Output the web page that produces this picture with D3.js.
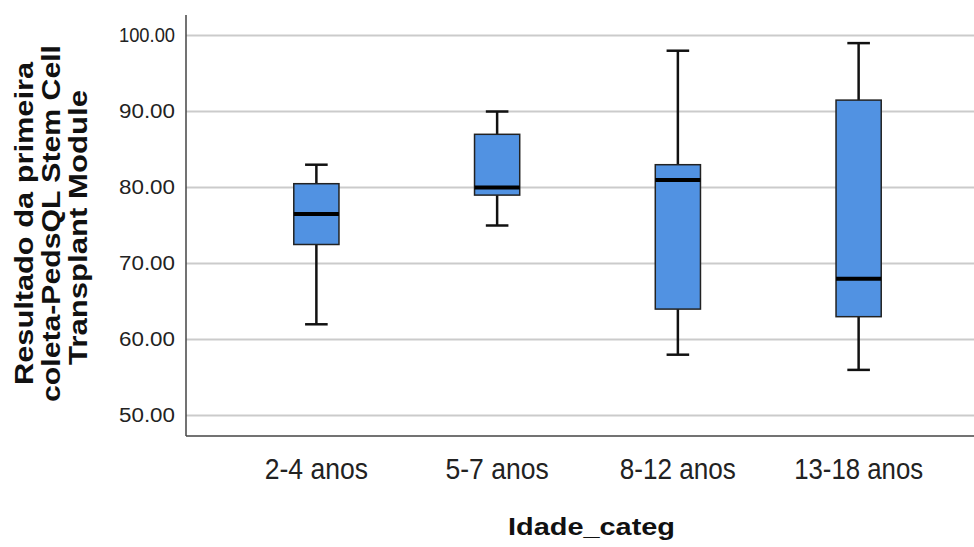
<!DOCTYPE html>
<html><head><meta charset="utf-8">
<script src="https://cdn.jsdelivr.net/npm/d3@7"></script>
<style>body{margin:0;background:#fff}</style>
</head><body>
<svg id="c" width="974" height="547"></svg>
<script>
const categories = ["2-4 anos", "5-7 anos", "8-12 anos", "13-18 anos"];
const whiskerLow = [62, 75, 58, 56];
const q1 = [72.5, 79, 64, 63];
const median = [76.5, 80, 81, 68];
const q3 = [80.5, 87, 83, 91.5];
const whiskerHigh = [83, 90, 98, 99];
const yTicks = [50, 60, 70, 80, 90, 100];
const yTitleLines = ["Resultado da primeira", "coleta-PedsQL Stem Cell", "Transplant Module"];
const xTitle = "Idade_categ";

const svg = d3.select("#c");
const plotLeft = 186, plotRight = 974, plotTop = 15, plotBottom = 436;

const y = d3.scaleLinear().domain([47.3, 102.7]).range([plotBottom, plotTop]);
const x = d3.scaleBand().domain(categories).range([226, 949]);

// gridlines
svg.append("g").selectAll("line").data(yTicks).join("line")
  .attr("x1", plotLeft).attr("x2", plotRight)
  .attr("y1", d => y(d)).attr("y2", d => y(d))
  .attr("stroke", "#cbcbcb").attr("stroke-width", 2);

// y axis
const yAxis = svg.append("g").attr("transform", `translate(${plotLeft},0)`)
  .call(d3.axisLeft(y).tickValues(yTicks).tickSize(0).tickPadding(11).tickFormat(d3.format(".2f")));
yAxis.select(".domain").remove();
yAxis.selectAll("text").attr("font-family", "Liberation Sans, Arial, sans-serif")
  .attr("font-size", 20).attr("fill", "#222")
  .attr("textLength", 56).attr("lengthAdjust", "spacingAndGlyphs");

// axis lines
svg.append("line").attr("x1", plotLeft).attr("x2", plotLeft).attr("y1", plotTop).attr("y2", plotBottom)
  .attr("stroke", "#444").attr("stroke-width", 1.5);
svg.append("line").attr("x1", plotLeft).attr("x2", plotRight).attr("y1", plotBottom).attr("y2", plotBottom)
  .attr("stroke", "#444").attr("stroke-width", 1.5);

// x axis labels
const xAxis = svg.append("g").attr("transform", `translate(0,${plotBottom})`)
  .call(d3.axisBottom(x).tickSize(0).tickPadding(0));
xAxis.select(".domain").remove();
xAxis.selectAll("text").attr("font-family", "Liberation Sans, Arial, sans-serif")
  .attr("font-size", 30).attr("fill", "#222").attr("dy", null).attr("y", 43)
  .attr("textLength", d => d.length * 12.9).attr("lengthAdjust", "spacingAndGlyphs");

// boxes
const data = categories.map((c, i) => ({c, lo: whiskerLow[i], q1: q1[i], med: median[i], q3: q3[i], hi: whiskerHigh[i]}));
const bw = x.bandwidth() * 0.25;
const g = svg.append("g").selectAll("g").data(data).join("g")
  .attr("transform", d => `translate(${x(d.c) + x.bandwidth() / 2},0)`);
g.append("line").attr("x1", 0).attr("x2", 0).attr("y1", d => y(d.hi)).attr("y2", d => y(d.q3))
  .attr("stroke", "#111").attr("stroke-width", 2.5);
g.append("line").attr("x1", 0).attr("x2", 0).attr("y1", d => y(d.q1)).attr("y2", d => y(d.lo))
  .attr("stroke", "#111").attr("stroke-width", 2.5);
g.append("line").attr("x1", -bw / 4).attr("x2", bw / 4).attr("y1", d => y(d.hi)).attr("y2", d => y(d.hi))
  .attr("stroke", "#111").attr("stroke-width", 2.5);
g.append("line").attr("x1", -bw / 4).attr("x2", bw / 4).attr("y1", d => y(d.lo)).attr("y2", d => y(d.lo))
  .attr("stroke", "#111").attr("stroke-width", 2.5);
g.append("rect").attr("x", -bw / 2).attr("width", bw)
  .attr("y", d => y(d.q3)).attr("height", d => y(d.q1) - y(d.q3))
  .attr("fill", "#5192e2").attr("stroke", "#222").attr("stroke-width", 1.5);
g.append("line").attr("x1", -bw / 2).attr("x2", bw / 2).attr("y1", d => y(d.med)).attr("y2", d => y(d.med))
  .attr("stroke", "#000").attr("stroke-width", 4);

// y title
const yt = svg.append("text").attr("transform", "rotate(-90)")
  .attr("font-family", "Liberation Sans, Arial, sans-serif").attr("font-weight", "bold")
  .attr("font-size", 26).attr("fill", "#111").attr("text-anchor", "middle");
const lens = [323, 357, 275];
const centers = [223.5, 223.5, 227.5];
const bases = [33, 60, 87];
yTitleLines.forEach((t, i) => {
  yt.append("tspan").attr("x", -centers[i]).attr("y", bases[i]).text(t)
    .attr("textLength", lens[i]).attr("lengthAdjust", "spacingAndGlyphs");
});

// x title
svg.append("text").attr("x", 591.5).attr("y", 535).attr("text-anchor", "middle")
  .attr("font-family", "Liberation Sans, Arial, sans-serif").attr("font-weight", "bold")
  .attr("font-size", 24).attr("fill", "#111")
  .attr("textLength", 167).attr("lengthAdjust", "spacingAndGlyphs").text(xTitle);
</script>
</body></html>
